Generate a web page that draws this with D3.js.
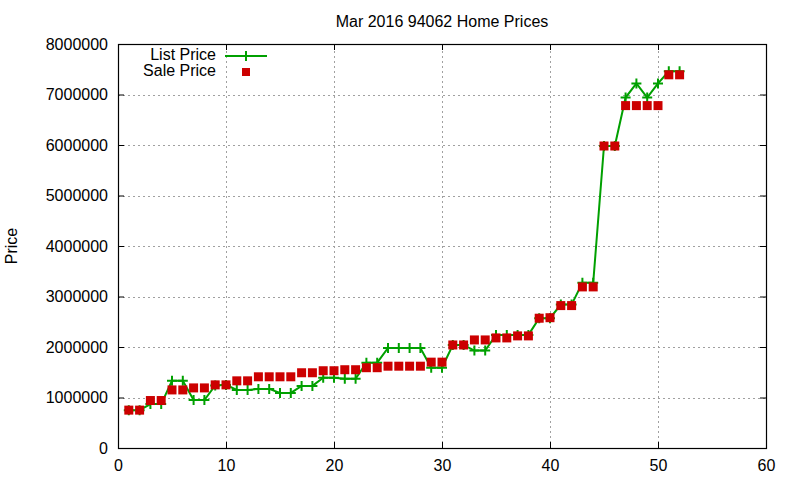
<!DOCTYPE html>
<html>
<head>
<meta charset="utf-8">
<script src="https://cdn.jsdelivr.net/npm/d3@7"></script>
<style>
  body { margin: 0; background: #fff; }
  svg text { font-family: "Liberation Sans", Arial, sans-serif; font-size: 16px; fill: #000; }
</style>
</head>
<body>
<div id="chart"></div>
<script>
// Data
const homeIndex = d3.range(1, 53);
const listPrice = [
  750000, 750000, 870000, 870000, 1330000, 1330000, 950000, 950000, 1240000, 1250000,
  1150000, 1150000, 1170000, 1170000, 1090000, 1090000, 1230000, 1230000, 1390000, 1390000,
  1370000, 1370000, 1690000, 1690000, 1980000, 1980000, 1980000, 1980000, 1590000, 1590000,
  2040000, 2040000, 1930000, 1930000, 2240000, 2240000, 2240000, 2240000, 2570000, 2570000,
  2840000, 2840000, 3270000, 3270000, 5980000, 5980000, 6940000, 7220000, 6940000, 7220000,
  7460000, 7460000
];
const salePrice = [
  750000, 750000, 940000, 940000, 1150000, 1150000, 1190000, 1190000, 1250000, 1250000,
  1330000, 1330000, 1410000, 1410000, 1410000, 1410000, 1490000, 1490000, 1530000, 1530000,
  1550000, 1550000, 1590000, 1590000, 1620000, 1620000, 1620000, 1620000, 1700000, 1700000,
  2040000, 2040000, 2140000, 2140000, 2180000, 2180000, 2220000, 2220000, 2570000, 2580000,
  2820000, 2820000, 3190000, 3190000, 5980000, 5980000, 6780000, 6780000, 6780000, 6780000,
  7390000, 7390000
];
const xTicks = [0, 10, 20, 30, 40, 50, 60];
const yTicks = d3.range(0, 8000001, 1000000);

const width = 800, height = 480;
const margin = { top: 44, right: 34, bottom: 32, left: 118 };
const green = "#00a000", red = "#cc0000";

const x = d3.scaleLinear().domain([0, 60]).range([margin.left, width - margin.right]);
const y = d3.scaleLinear().domain([0, 8000000]).range([height - margin.bottom, margin.top]);

const svg = d3.select("#chart").append("svg")
  .attr("width", width)
  .attr("height", height);

// Grid
const grid = svg.append("g")
  .attr("stroke", "#a0a0a0")
  .attr("stroke-width", 1)
  .attr("stroke-dasharray", "2,3");
grid.selectAll(".gx")
  .data(xTicks.slice(1, -1))
  .join("line")
  .attr("x1", d => Math.round(x(d)) + 0.5).attr("x2", d => Math.round(x(d)) + 0.5)
  .attr("y1", y(0)).attr("y2", y(8000000));
grid.selectAll(".gy")
  .data(yTicks.slice(1, -1))
  .join("line")
  .attr("y1", d => Math.round(y(d)) + 0.5).attr("y2", d => Math.round(y(d)) + 0.5)
  .attr("x1", x(0)).attr("x2", x(60));

// Axes, ticks inward and mirrored
svg.append("g")
  .attr("transform", `translate(0,${y(0)})`)
  .call(d3.axisBottom(x).tickValues(xTicks).tickSizeInner(-6).tickSizeOuter(0).tickPadding(12))
  .call(g => g.select(".domain").remove());
svg.append("g")
  .attr("transform", `translate(0,${y(8000000)})`)
  .call(d3.axisTop(x).tickValues(xTicks).tickSizeInner(-6).tickSizeOuter(0).tickFormat(""))
  .call(g => g.select(".domain").remove());
svg.append("g")
  .attr("transform", `translate(${x(0)},0)`)
  .call(d3.axisLeft(y).tickValues(yTicks).tickSizeInner(-6).tickSizeOuter(0).tickPadding(10).tickFormat(d3.format("d")))
  .call(g => g.select(".domain").remove());
svg.append("g")
  .attr("transform", `translate(${x(60)},0)`)
  .call(d3.axisRight(y).tickValues(yTicks).tickSizeInner(-6).tickSizeOuter(0).tickFormat(""))
  .call(g => g.select(".domain").remove());
svg.selectAll(".tick text").style("font-size", "16px").attr("fill", "#000");

// Frame
svg.append("rect")
  .attr("x", x(0) + 0.5).attr("y", y(8000000) + 0.5)
  .attr("width", x(60) - x(0)).attr("height", y(0) - y(8000000))
  .attr("fill", "none").attr("stroke", "#000").attr("stroke-width", 1.2);

// List price line with plus markers
const listData = homeIndex.map((d, i) => [d, listPrice[i]]);
svg.append("path")
  .datum(listData)
  .attr("fill", "none")
  .attr("stroke", green)
  .attr("stroke-width", 2)
  .attr("d", d3.line().x(d => x(d[0])).y(d => y(d[1])));
svg.append("g").selectAll("path")
  .data(listData)
  .join("path")
  .attr("transform", d => `translate(${x(d[0])},${y(d[1])})`)
  .attr("d", "M-5,0H5M0,-5V5")
  .attr("stroke", green)
  .attr("stroke-width", 2);

// Sale price squares
svg.append("g").selectAll("rect")
  .data(homeIndex.map((d, i) => [d, salePrice[i]]))
  .join("rect")
  .attr("x", d => x(d[0]) - 4.5)
  .attr("y", d => y(d[1]) - 4.5)
  .attr("width", 9).attr("height", 9)
  .attr("fill", red);

// Title
svg.append("text")
  .attr("x", (x(0) + x(60)) / 2)
  .attr("y", 27)
  .attr("text-anchor", "middle")
  .text("Mar 2016 94062 Home Prices");

// Y label
svg.append("text")
  .attr("transform", `translate(17,${(y(0) + y(8000000)) / 2}) rotate(-90)`)
  .attr("text-anchor", "middle")
  .text("Price");

// Legend
const legend = svg.append("g");
legend.append("text").attr("x", 216).attr("y", 60).attr("text-anchor", "end").text("List Price");
legend.append("line").attr("x1", 225).attr("x2", 267).attr("y1", 56).attr("y2", 56)
  .attr("stroke", green).attr("stroke-width", 2);
legend.append("path").attr("transform", "translate(246,56)").attr("d", "M-5,0H5M0,-5V5")
  .attr("stroke", green).attr("stroke-width", 2);
legend.append("text").attr("x", 216).attr("y", 76).attr("text-anchor", "end").text("Sale Price");
legend.append("rect").attr("x", 242).attr("y", 68).attr("width", 8).attr("height", 8).attr("fill", red);
</script>
</body>
</html>
